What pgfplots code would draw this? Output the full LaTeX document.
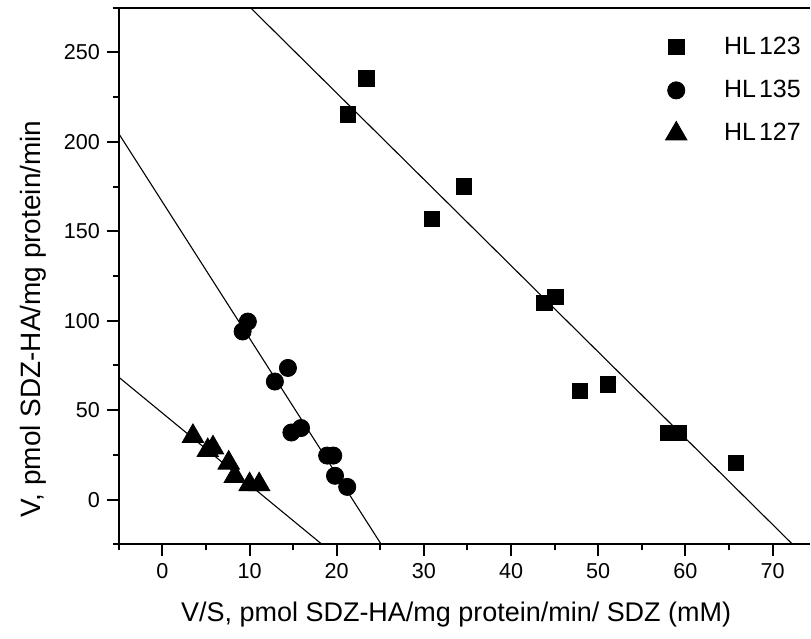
\documentclass[border=0pt]{standalone}
\usepackage{pgfplots}
\pgfplotsset{compat=1.18}
\usepackage{fontspec}
\setmainfont{Liberation Sans}

\pgfplotsset{
    lm/.style={legend image code/.code={
        \path[draw=none, fill=none] (-10pt,0pt) -- (22pt,0pt);
        \draw[mark repeat=2,mark phase=2,##1]
        plot coordinates {(0pt,0pt) (0pt,0pt) (0pt,0pt)};}},
}

\begin{document}
\begin{tikzpicture}
\begin{axis}[
    scale only axis,
    width=346pt, height=268.65pt,
    xmin=-5, xmax=74.3,
    ymin=-25, ymax=275,
    axis x line*=box,
    axis y line*=left,
    xtick pos=bottom, ytick pos=left,
    xtick={0,10,...,70},
    ytick={0,50,...,250},
    minor xtick={-5,5,...,75},
    minor ytick={-25,25,...,275},
    tick align=outside,
    major tick length=6pt,
    minor tick length=3pt,
    every tick/.style={black, line width=1pt},
    axis line style={line width=1pt},
    /pgf/number format/assume math mode=true,
    ticklabel style={font=\fontsize{10.8}{12}\selectfont},
    xlabel={V/S, pmol SDZ-HA/mg protein/min/ SDZ (mM)},
    ylabel={V, pmol SDZ-HA/mg protein/min},
    every axis x label/.style={at={(rel axis cs:0.080,-0.1446)}, anchor=base west,
        font=\fontsize{13.5}{15}\selectfont},
    every axis y label/.style={at={(rel axis cs:-0.114,0.42)}, rotate=90, anchor=base,
        font=\fontsize{14}{16}\selectfont},
    legend style={draw=none, fill=none, inner sep=0pt,
        at={(rel axis cs:0.777,0.954)}, anchor=north west,
        font=\fontsize{12.5}{14}\selectfont, row sep=7.5pt},
    legend cell align=left,
]
\addplot[only marks, mark=square*, mark size=3.9pt, black, lm] coordinates {
    (21.3,215.3) (23.4,235.5) (30.9,157) (34.6,175) (43.8,110) (45.1,113.4)
    (47.9,60.8) (51.1,64.3) (58.0,37.3) (59.2,37.3) (65.8,20.5)
};
\addlegendentry{HL\kern1.5pt 123}
\addplot[only marks, mark=*, mark size=4.3pt, black, lm] coordinates {
    (9.2,94) (9.8,99.5) (12.9,66) (14.4,73.6) (14.8,37.5) (15.9,40)
    (18.9,24.6) (19.6,24.6) (19.8,13.3) (21.2,7.1)
};
\addlegendentry{HL\kern1.5pt 135}
\addplot[only marks, mark=triangle*, mark size=6.2pt, black, lm] coordinates {
    (3.5,35.4) (5.2,27.5) (5.8,29) (7.6,20.5) (8.3,13) (10.0,8.4) (11.1,8.4)
};
\addlegendentry{HL\kern1.5pt 127}
\addplot[black, line width=0.55pt, forget plot] coordinates {(10.1,275) (72.3,-25)};
\addplot[black, line width=0.55pt, forget plot] coordinates {(-5,204.5) (25.1,-25)};
\addplot[black, line width=0.55pt, forget plot] coordinates {(-5,68.4) (18.3,-25)};
\coordinate (sw) at (rel axis cs:0,0);
\coordinate (ne) at (rel axis cs:1,1);
\end{axis}
\path ([shift={(-59.5pt,-47pt)}]sw) rectangle ([shift={(0pt,3.85pt)}]ne);
\end{tikzpicture}
\end{document}
